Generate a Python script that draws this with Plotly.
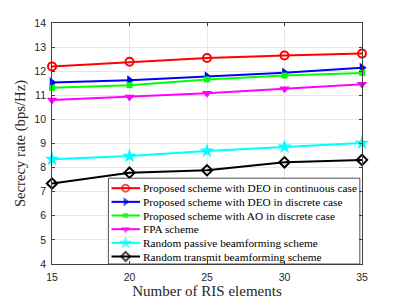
import plotly.graph_objects as go

ris_elements = [15, 20, 25, 30, 35]
deo_continuous = [12.20, 12.39, 12.55, 12.65, 12.73]
deo_discrete = [11.53, 11.62, 11.78, 11.94, 12.14]
ao_discrete = [11.31, 11.42, 11.66, 11.82, 11.93]
fpa = [10.80, 10.93, 11.08, 11.27, 11.46]
random_passive = [8.35, 8.48, 8.69, 8.86, 9.02]
random_transmit = [7.34, 7.79, 7.89, 8.22, 8.32]

names = [
    "Proposed scheme with DEO in continuous case",
    "Proposed scheme with DEO in discrete case",
    "Proposed scheme with AO in discrete case",
    "FPA scheme",
    "Random passive beamforming scheme",
    "Random transmit beamforming scheme",
]
series = [deo_continuous, deo_discrete, ao_discrete, fpa, random_passive, random_transmit]
colors = ["#ff0000", "#0000ff", "#00ff00", "#ff00ff", "#00ffff", "#000000"]
symbols = ["circle-open", "triangle-right", "square", "triangle-down", "star", "diamond-open"]
sizes = [8, 9, 6, 9, 11, 8]

fig = go.Figure()
for name, ys, c, s, sz in zip(names, series, colors, symbols, sizes):
    fig.add_trace(go.Scatter(
        x=ris_elements, y=ys, mode="lines+markers", name=name,
        line=dict(color=c, width=2),
        marker=dict(symbol=s, size=sz, color=c, line=dict(color=c, width=2 if "open" in s else 0)),
        showlegend=False, cliponaxis=False,
    ))

# custom compact legend on an overlay axis (0..1 of plot area)
lx0, lx1, ly0, ly1 = 0.182, 0.993, 0.0, 0.356
fig.add_trace(go.Scatter(
    x=[lx0, lx1, lx1, lx0, lx0], y=[ly0, ly0, ly1, ly1, ly0],
    mode="lines", fill="toself", fillcolor="white",
    line=dict(color="#262626", width=0.8),
    xaxis="x2", yaxis="y2", showlegend=False, hoverinfo="skip",
))
row_y = [0.3146 - 0.0567 * i for i in range(6)]
for name, c, s, sz, ry in zip(names, colors, symbols, sizes, row_y):
    fig.add_trace(go.Scatter(
        x=[0.192, 0.2375, 0.284], y=[ry, ry, ry], mode="lines+markers",
        line=dict(color=c, width=2),
        marker=dict(symbol=s, size=[0, sz - 1, 0], color=c,
                    line=dict(color=c, width=2 if "open" in s else 0)),
        xaxis="x2", yaxis="y2", showlegend=False, hoverinfo="skip",
    ))
    fig.add_annotation(
        x=0.286, y=ry, xref="paper", yref="paper", text=name, showarrow=False,
        xanchor="left", yanchor="middle",
        font=dict(family="Liberation Serif", size=11.3, color="#000000"),
    )

axis_common = dict(
    showline=True, linecolor="#404040", linewidth=0.8, mirror="ticks",
    ticks="inside", ticklen=3, tickcolor="#404040",
    showgrid=True, gridcolor="#e6e6e6", gridwidth=0.8, zeroline=False,
    tickfont=dict(family="Liberation Sans", size=10.5, color="#262626"),
    ticklabelstandoff=3, automargin=False,
)
fig.update_layout(
    width=399, height=299,
    margin=dict(l=52, r=37, t=23, b=35),
    paper_bgcolor="white", plot_bgcolor="white",
    xaxis=dict(range=[15, 35], tickvals=[15, 20, 25, 30, 35],
               title=dict(text="Number of RIS elements", standoff=3,
                          font=dict(family="Liberation Serif", size=15, color="#262626")),
               **axis_common),
    yaxis=dict(range=[4, 14], tickvals=list(range(4, 15)),
               title=dict(text="Secrecy rate (bps/Hz)", standoff=5,
                          font=dict(family="Liberation Serif", size=14.7, color="#262626")),
               **axis_common),
    xaxis2=dict(overlaying="x", range=[0, 1], visible=False, fixedrange=True),
    yaxis2=dict(overlaying="y", range=[0, 1], visible=False, fixedrange=True),
    showlegend=False,
)
fig.write_html("out.html", config={"displayModeBar": False},
               post_script="document.body.style.margin='0';")
